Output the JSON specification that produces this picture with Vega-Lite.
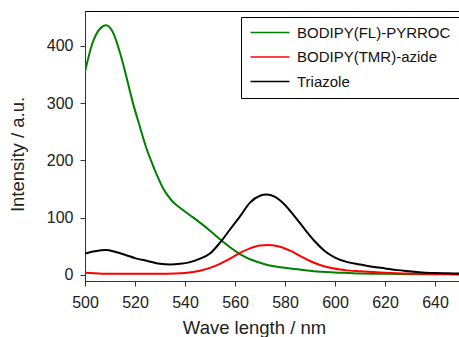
{
  "$schema": "https://vega.github.io/schema/vega-lite/v6.json",
  "width": 375,
  "height": 270,
  "autosize": "none",
  "padding": {"left": 85, "top": 11, "right": 0, "bottom": 56},
  "background": "white",
  "config": {
    "view": {"stroke": "#000000", "strokeWidth": 1},
    "font": "Liberation Sans"
  },
  "datasets": {
    "spectra": [
      {"nm": 500, "v": 355, "s": "BODIPY(FL)-PYRROC"},
      {"nm": 503, "v": 405, "s": "BODIPY(FL)-PYRROC"},
      {"nm": 506, "v": 430, "s": "BODIPY(FL)-PYRROC"},
      {"nm": 508.5, "v": 436, "s": "BODIPY(FL)-PYRROC"},
      {"nm": 511, "v": 425, "s": "BODIPY(FL)-PYRROC"},
      {"nm": 514, "v": 388, "s": "BODIPY(FL)-PYRROC"},
      {"nm": 516.5, "v": 347, "s": "BODIPY(FL)-PYRROC"},
      {"nm": 519, "v": 303, "s": "BODIPY(FL)-PYRROC"},
      {"nm": 522, "v": 258, "s": "BODIPY(FL)-PYRROC"},
      {"nm": 524.5, "v": 222, "s": "BODIPY(FL)-PYRROC"},
      {"nm": 527, "v": 193, "s": "BODIPY(FL)-PYRROC"},
      {"nm": 529, "v": 172, "s": "BODIPY(FL)-PYRROC"},
      {"nm": 531, "v": 153, "s": "BODIPY(FL)-PYRROC"},
      {"nm": 533, "v": 139, "s": "BODIPY(FL)-PYRROC"},
      {"nm": 535, "v": 128, "s": "BODIPY(FL)-PYRROC"},
      {"nm": 538, "v": 117, "s": "BODIPY(FL)-PYRROC"},
      {"nm": 542, "v": 104, "s": "BODIPY(FL)-PYRROC"},
      {"nm": 546, "v": 91, "s": "BODIPY(FL)-PYRROC"},
      {"nm": 550, "v": 77, "s": "BODIPY(FL)-PYRROC"},
      {"nm": 554, "v": 62, "s": "BODIPY(FL)-PYRROC"},
      {"nm": 558, "v": 48, "s": "BODIPY(FL)-PYRROC"},
      {"nm": 562, "v": 36, "s": "BODIPY(FL)-PYRROC"},
      {"nm": 566, "v": 27, "s": "BODIPY(FL)-PYRROC"},
      {"nm": 570, "v": 21, "s": "BODIPY(FL)-PYRROC"},
      {"nm": 574, "v": 16, "s": "BODIPY(FL)-PYRROC"},
      {"nm": 578, "v": 13, "s": "BODIPY(FL)-PYRROC"},
      {"nm": 582, "v": 11, "s": "BODIPY(FL)-PYRROC"},
      {"nm": 586, "v": 9, "s": "BODIPY(FL)-PYRROC"},
      {"nm": 590, "v": 7, "s": "BODIPY(FL)-PYRROC"},
      {"nm": 595, "v": 5, "s": "BODIPY(FL)-PYRROC"},
      {"nm": 600, "v": 4, "s": "BODIPY(FL)-PYRROC"},
      {"nm": 610, "v": 2, "s": "BODIPY(FL)-PYRROC"},
      {"nm": 620, "v": 1.5, "s": "BODIPY(FL)-PYRROC"},
      {"nm": 630, "v": 1, "s": "BODIPY(FL)-PYRROC"},
      {"nm": 640, "v": 0.7, "s": "BODIPY(FL)-PYRROC"},
      {"nm": 650, "v": 0.5, "s": "BODIPY(FL)-PYRROC"},
      {"nm": 500, "v": 3.5, "s": "BODIPY(TMR)-azide"},
      {"nm": 504, "v": 2.5, "s": "BODIPY(TMR)-azide"},
      {"nm": 508, "v": 1.5, "s": "BODIPY(TMR)-azide"},
      {"nm": 520, "v": 1.5, "s": "BODIPY(TMR)-azide"},
      {"nm": 530, "v": 1.5, "s": "BODIPY(TMR)-azide"},
      {"nm": 536, "v": 2, "s": "BODIPY(TMR)-azide"},
      {"nm": 540, "v": 3, "s": "BODIPY(TMR)-azide"},
      {"nm": 546, "v": 7, "s": "BODIPY(TMR)-azide"},
      {"nm": 550, "v": 12, "s": "BODIPY(TMR)-azide"},
      {"nm": 554, "v": 19, "s": "BODIPY(TMR)-azide"},
      {"nm": 558, "v": 28, "s": "BODIPY(TMR)-azide"},
      {"nm": 562, "v": 38, "s": "BODIPY(TMR)-azide"},
      {"nm": 566, "v": 46, "s": "BODIPY(TMR)-azide"},
      {"nm": 570, "v": 51, "s": "BODIPY(TMR)-azide"},
      {"nm": 573.5, "v": 52, "s": "BODIPY(TMR)-azide"},
      {"nm": 578, "v": 49, "s": "BODIPY(TMR)-azide"},
      {"nm": 582, "v": 42, "s": "BODIPY(TMR)-azide"},
      {"nm": 586, "v": 33, "s": "BODIPY(TMR)-azide"},
      {"nm": 590, "v": 24, "s": "BODIPY(TMR)-azide"},
      {"nm": 594, "v": 17, "s": "BODIPY(TMR)-azide"},
      {"nm": 598, "v": 12, "s": "BODIPY(TMR)-azide"},
      {"nm": 604, "v": 8, "s": "BODIPY(TMR)-azide"},
      {"nm": 610, "v": 6, "s": "BODIPY(TMR)-azide"},
      {"nm": 620, "v": 3.5, "s": "BODIPY(TMR)-azide"},
      {"nm": 630, "v": 2, "s": "BODIPY(TMR)-azide"},
      {"nm": 640, "v": 1.2, "s": "BODIPY(TMR)-azide"},
      {"nm": 650, "v": 1, "s": "BODIPY(TMR)-azide"},
      {"nm": 500, "v": 37, "s": "Triazole"},
      {"nm": 504, "v": 41, "s": "Triazole"},
      {"nm": 508.5, "v": 43, "s": "Triazole"},
      {"nm": 512, "v": 40, "s": "Triazole"},
      {"nm": 516, "v": 35, "s": "Triazole"},
      {"nm": 520, "v": 29, "s": "Triazole"},
      {"nm": 525, "v": 24, "s": "Triazole"},
      {"nm": 530, "v": 19, "s": "Triazole"},
      {"nm": 534, "v": 18, "s": "Triazole"},
      {"nm": 538, "v": 19, "s": "Triazole"},
      {"nm": 542, "v": 22, "s": "Triazole"},
      {"nm": 546, "v": 28, "s": "Triazole"},
      {"nm": 550, "v": 37, "s": "Triazole"},
      {"nm": 554, "v": 56, "s": "Triazole"},
      {"nm": 558, "v": 79, "s": "Triazole"},
      {"nm": 562, "v": 102, "s": "Triazole"},
      {"nm": 566, "v": 126, "s": "Triazole"},
      {"nm": 570, "v": 138, "s": "Triazole"},
      {"nm": 572.5, "v": 140, "s": "Triazole"},
      {"nm": 576, "v": 136, "s": "Triazole"},
      {"nm": 580, "v": 122, "s": "Triazole"},
      {"nm": 584, "v": 101, "s": "Triazole"},
      {"nm": 588, "v": 79, "s": "Triazole"},
      {"nm": 592, "v": 58, "s": "Triazole"},
      {"nm": 596, "v": 41, "s": "Triazole"},
      {"nm": 600, "v": 30, "s": "Triazole"},
      {"nm": 605, "v": 22, "s": "Triazole"},
      {"nm": 610, "v": 18, "s": "Triazole"},
      {"nm": 615, "v": 14, "s": "Triazole"},
      {"nm": 620, "v": 11, "s": "Triazole"},
      {"nm": 625, "v": 8, "s": "Triazole"},
      {"nm": 630, "v": 6, "s": "Triazole"},
      {"nm": 635, "v": 4, "s": "Triazole"},
      {"nm": 640, "v": 3, "s": "Triazole"},
      {"nm": 645, "v": 2.5, "s": "Triazole"},
      {"nm": 650, "v": 2, "s": "Triazole"}
    ]
  },
  "data": {"name": "spectra"},
  "mark": {"type": "line", "strokeWidth": 2, "interpolate": "monotone", "clip": true},
  "encoding": {
    "x": {
      "field": "nm", "type": "quantitative",
      "scale": {"domain": [500, 650], "nice": false, "zero": false},
      "axis": {
        "title": "Wave length / nm", "values": [500, 520, 540, 560, 580, 600, 620, 640],
        "grid": false, "domainColor": "#333", "tickColor": "#333", "tickSize": 5,
        "labelFontSize": 16, "labelColor": "#222", "labelPadding": 8, "labelFlush": false,
        "titleFontSize": 18.5, "titleFontWeight": "normal", "titleColor": "#222", "titlePadding": 8,
        "titleX": 169,
        "labelFont": "Liberation Sans", "titleFont": "Liberation Sans"
      }
    },
    "y": {
      "field": "v", "type": "quantitative",
      "scale": {"domain": [-11, 461], "nice": false, "zero": false},
      "axis": {
        "title": "Intensity / a.u.", "values": [0, 100, 200, 300, 400],
        "grid": false, "domainColor": "#333", "tickColor": "#333", "tickSize": 5,
        "labelFontSize": 16, "labelColor": "#222", "labelPadding": 7, "labelFlush": false,
        "titleFontSize": 18.5, "titleFontWeight": "normal", "titleColor": "#222", "titlePadding": 19,
        "titleY": 143,
        "labelFont": "Liberation Sans", "titleFont": "Liberation Sans"
      }
    },
    "color": {
      "field": "s", "type": "nominal", "sort": null,
      "scale": {
        "domain": ["BODIPY(FL)-PYRROC", "BODIPY(TMR)-azide", "Triazole"],
        "range": ["#008000", "#ff0000", "#000000"]
      },
      "legend": {
        "title": null, "orient": "none", "legendX": 156, "legendY": 6,
        "strokeColor": "#000", "padding": 8, "symbolType": "M-1.2,0H6.6",
        "symbolSize": 100, "symbolStrokeWidth": 1.5, "labelFontSize": 15,
        "labelFont": "Liberation Sans", "labelColor": "#111", "labelOffset": 33, "rowPadding": 8.5
      }
    }
  }
}
